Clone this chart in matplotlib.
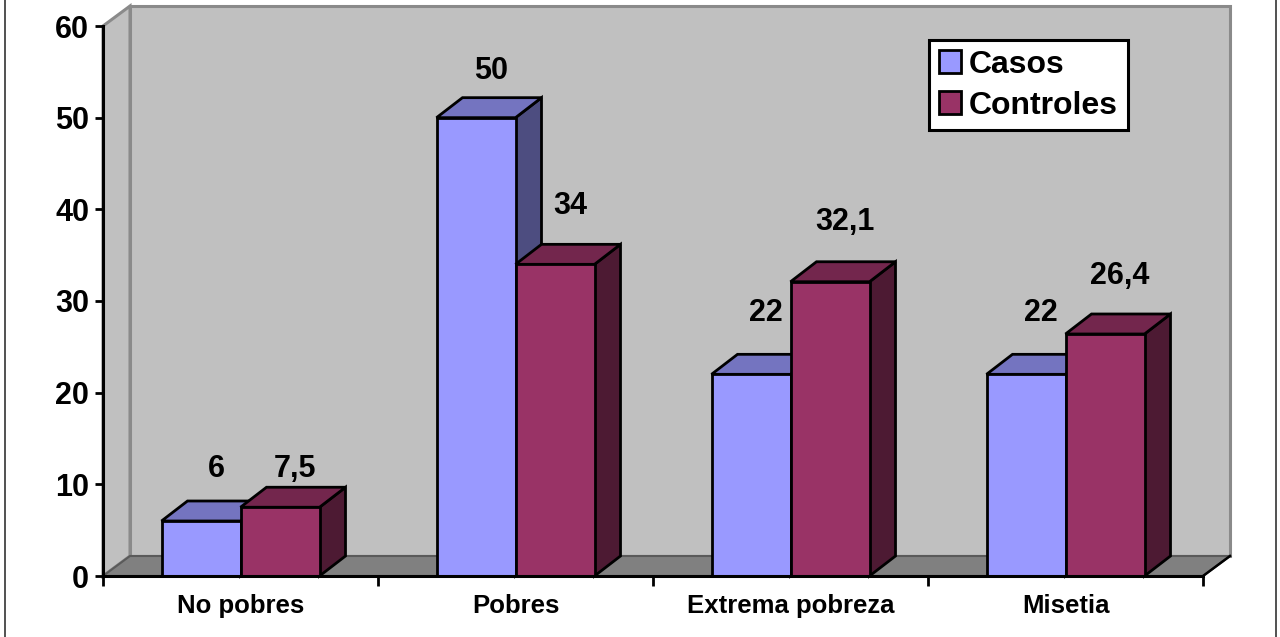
import matplotlib
matplotlib.use("Agg")
import matplotlib.pyplot as plt
from matplotlib.patches import Polygon, Rectangle, Patch
from matplotlib.lines import Line2D

plt.rcParams['font.family'] = ['Liberation Sans', 'DejaVu Sans']
plt.rcParams['font.weight'] = 'bold'

# ---- data ----
categories = ["No pobres", "Pobres", "Extrema pobreza", "Misetia"]
casos = [6, 50, 22, 22]
controles = [7.5, 34, 32.1, 26.4]
series_names = ["Casos", "Controles"]
value_text_casos = ["6", "50", "22", "22"]
value_text_controles = ["7,5", "34", "32,1", "26,4"]

# vertical lift (pixels above the front top edge) of each value label
lift_casos = [52, 47, 61, 61]
lift_controles = [38, 58, 60, 58]

# ---- styling ----
W, H, DPI = 1280, 637, 100
face = {"Casos": "#9999FF", "Controles": "#993366"}
top_c = {"Casos": "#7474C0", "Controles": "#73264D"}
side_c = {"Casos": "#4D4D80", "Controles": "#4D1A33"}
wall_c = "#C0C0C0"
floor_c = "#808080"
wall_edge = "#8A8A8A"

fig = plt.figure(figsize=(W / DPI, H / DPI), dpi=DPI)
fig.patch.set_facecolor("white")

# front plane of the plot in pixels
x0p, x1p, y0p, y1p = 103, 1203, 576, 26
ax = fig.add_axes([x0p / W, 1 - y0p / H, (x1p - x0p) / W, (y0p - y1p) / H])
ax.set_xlim(0, len(categories))
ax.set_ylim(0, 60)
ax.patch.set_visible(False)

px_x = len(categories) / (x1p - x0p)   # data units per pixel (x)
px_y = 60 / (y0p - y1p)                # data units per pixel (y)

# depth offsets of walls and bars
wdx, wdy = 27 * px_x, 20 * px_y
bdx, bdy = 26 * px_x, 20 * px_y

ncat = len(categories)
# walls and floor
ax.add_patch(Polygon([(wdx, wdy), (ncat + wdx, wdy), (ncat + wdx, 60 + wdy), (wdx, 60 + wdy)],
                     closed=True, facecolor=wall_c, edgecolor=wall_edge, lw=2.2,
                     clip_on=False, zorder=0))
ax.add_patch(Polygon([(0, 0), (0, 60), (wdx, 60 + wdy), (wdx, wdy)],
                     closed=True, facecolor=wall_c, edgecolor=wall_edge, lw=2.2,
                     clip_on=False, zorder=0.5))
ax.add_patch(Polygon([(0, 0), (ncat, 0), (ncat + wdx, wdy), (wdx, wdy)],
                     closed=True, facecolor=floor_c, edgecolor="#5A5A5A", lw=1.5,
                     clip_on=False, zorder=0.6))
ax.plot([ncat, ncat + wdx], [0, wdy], color="black", lw=1.8, clip_on=False, zorder=0.7)

bar_w = 79 * px_x
edge_kw = dict(edgecolor="black", lw=2.0, joinstyle="miter", clip_on=False)


def draw_bar(xl, v, name, z):
    xr = xl + bar_w
    ax.add_patch(Polygon([(xr, 0), (xr + bdx, bdy), (xr + bdx, v + bdy), (xr, v)],
                         closed=True, facecolor=side_c[name], zorder=z, **edge_kw))
    ax.add_patch(Polygon([(xl, v), (xr, v), (xr + bdx, v + bdy), (xl + bdx, v + bdy)],
                         closed=True, facecolor=top_c[name], zorder=z, **edge_kw))
    ax.add_patch(Rectangle((xl, 0), bar_w, v, facecolor=face[name], zorder=z + 0.1, **edge_kw))


lab_dx = 15 * px_x
val_fs = 22
for i in range(ncat):
    c = i + 0.5
    xa = c - bar_w
    xb = c
    draw_bar(xa, casos[i], "Casos", 2 + i)
    draw_bar(xb, controles[i], "Controles", 2.5 + i)
    ax.text(xa + bar_w / 2 + lab_dx, casos[i] + lift_casos[i] * px_y, value_text_casos[i],
            ha="center", va="center", fontsize=val_fs, fontweight="bold", zorder=10)
    ax.text(xb + bar_w / 2 + lab_dx, controles[i] + lift_controles[i] * px_y, value_text_controles[i],
            ha="center", va="center", fontsize=val_fs, fontweight="bold", zorder=10)

# axes lines and ticks
for s in ("top", "right"):
    ax.spines[s].set_visible(False)
for s in ("left", "bottom"):
    ax.spines[s].set_linewidth(2.2)
    ax.spines[s].set_color("black")
    ax.spines[s].set_zorder(20)

ax.set_yticks(range(0, 61, 10))
ax.tick_params(axis="y", direction="out", length=6, width=2, labelsize=22, pad=4)
ax.set_xticks(range(0, ncat + 1))
ax.set_xticklabels([])
ax.tick_params(axis="x", which="major", direction="out", length=7, width=2)
ax.set_xticks([i + 0.5 for i in range(ncat)], minor=True)
ax.set_xticklabels(categories, minor=True, fontsize=18.5, fontweight="bold")
ax.tick_params(axis="x", which="minor", length=0, pad=13)
for lbl in ax.get_yticklabels():
    lbl.set_fontweight("bold")

# legend
handles = [Patch(facecolor=face[n], edgecolor="black", lw=2) for n in series_names]
leg = fig.legend(handles, series_names, loc="upper left",
                 bbox_to_anchor=(929 / W, 1 - 40 / H), bbox_transform=fig.transFigure,
                 frameon=True, fancybox=False, edgecolor="black", framealpha=1,
                 prop={"size": 23, "weight": "bold"}, handlelength=0.7, handleheight=0.7,
                 handletextpad=0.25, borderpad=0.3, labelspacing=0.35, borderaxespad=0)
leg.get_frame().set_linewidth(2.2)

# outer frame lines
fig.add_artist(Line2D([4.5 / W, 4.5 / W], [0, 1], transform=fig.transFigure, color="#333333", lw=1.2))
fig.add_artist(Line2D([1275.5 / W, 1275.5 / W], [0, 1], transform=fig.transFigure, color="#333333", lw=1.2))

fig.savefig("out.png", dpi=DPI)
